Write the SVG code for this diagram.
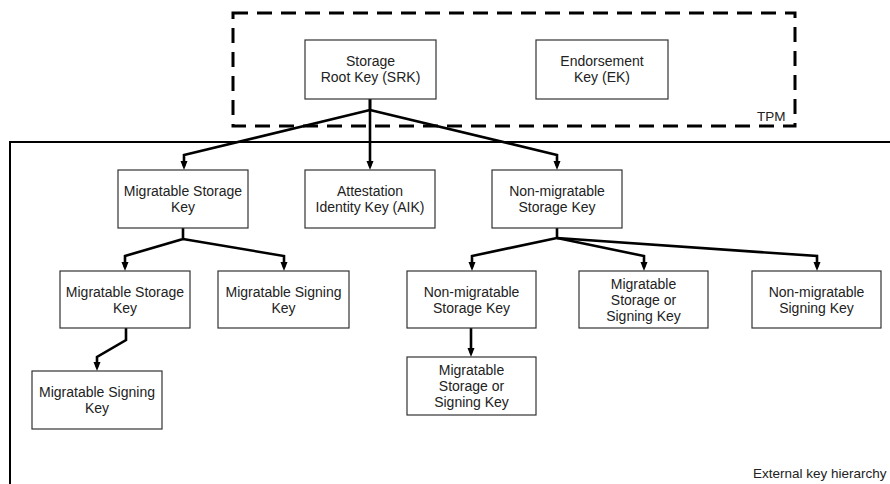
<svg xmlns="http://www.w3.org/2000/svg" width="890" height="484" viewBox="0 0 890 484">
  <style>
    .box { fill: #ffffff; stroke: #333333; stroke-width: 1.2; }
    .lbl { font-family: "Liberation Sans", Arial, sans-serif; font-size: 14px; fill: #222222; text-anchor: middle; }
    .note { font-family: "Liberation Sans", Arial, sans-serif; font-size: 13.5px; fill: #222222; }
    .edge { fill: none; stroke: #000000; stroke-width: 2.6; stroke-linejoin: miter; marker-end: url(#arrow); }
  </style>
  <defs>
    <marker id="arrow" markerUnits="userSpaceOnUse" markerWidth="10" markerHeight="8" refX="5" refY="3.5" orient="auto">
      <path d="M0,0 L9,3.5 L0,7 z" fill="#000000"/>
    </marker>
  </defs>
  <rect width="890" height="484" fill="#ffffff"/>

  <!-- external key hierarchy frame (runs off the right and bottom edges) -->
  <g id="external">
    <path d="M10,484 L10,142 L890,142" fill="none" stroke="#000000" stroke-width="2"/>
    <text class="note" x="753" y="478">External key hierarchy</text>
  </g>

  <!-- TPM boundary -->
  <g id="tpm">
    <rect x="233" y="13" width="562" height="113" fill="none" stroke="#000000" stroke-width="3" stroke-dasharray="15 9"/>
    <text class="note" x="757" y="121">TPM</text>
  </g>

  <g id="connectors">
    <polyline class="edge" points="370,99 370,110 184,155 184,166"/>
    <polyline class="edge" points="370,99 370,166"/>
    <polyline class="edge" points="370,110 557,155 557,166"/>
    <polyline class="edge" points="183,228 183,239 125,256 125,267"/>
    <polyline class="edge" points="183,239 284,256 284,267"/>
    <polyline class="edge" points="126,328 126,340 97,357 97,367"/>
    <polyline class="edge" points="557,228 557,238 472,256 472,267"/>
    <polyline class="edge" points="557,238 644,256 644,267"/>
    <polyline class="edge" points="557,238 817,256 817,267"/>
    <polyline class="edge" points="471,328 471,353"/>
  </g>

  <g id="srk">
    <rect class="box" x="305" y="40" width="131" height="59"/>
    <text class="lbl" x="370.5" y="66">Storage</text>
    <text class="lbl" x="370.5" y="82">Root Key (SRK)</text>
  </g>
  <g id="ek">
    <rect class="box" x="536" y="40" width="132" height="59"/>
    <text class="lbl" x="602" y="66">Endorsement</text>
    <text class="lbl" x="602" y="82">Key (EK)</text>
  </g>

  <g id="msk1">
    <rect class="box" x="118" y="170" width="130" height="58"/>
    <text class="lbl" x="183" y="196">Migratable Storage</text>
    <text class="lbl" x="183" y="212">Key</text>
  </g>
  <g id="aik">
    <rect class="box" x="305" y="170" width="130" height="58"/>
    <text class="lbl" x="370" y="196">Attestation</text>
    <text class="lbl" x="370" y="212">Identity Key (AIK)</text>
  </g>
  <g id="nmsk1">
    <rect class="box" x="492" y="170" width="130" height="58"/>
    <text class="lbl" x="557" y="196">Non-migratable</text>
    <text class="lbl" x="557" y="212">Storage Key</text>
  </g>

  <g id="msk2">
    <rect class="box" x="60" y="271" width="130" height="57"/>
    <text class="lbl" x="125" y="297">Migratable Storage</text>
    <text class="lbl" x="125" y="313">Key</text>
  </g>
  <g id="msig1">
    <rect class="box" x="218" y="271" width="131" height="57"/>
    <text class="lbl" x="283.5" y="297">Migratable Signing</text>
    <text class="lbl" x="283.5" y="313">Key</text>
  </g>
  <g id="nmsk2">
    <rect class="box" x="407" y="271" width="129" height="57"/>
    <text class="lbl" x="471.5" y="297">Non-migratable</text>
    <text class="lbl" x="471.5" y="313">Storage Key</text>
  </g>
  <g id="mss1">
    <rect class="box" x="579" y="271" width="129" height="57"/>
    <text class="lbl" x="643.5" y="289">Migratable</text>
    <text class="lbl" x="643.5" y="305">Storage or</text>
    <text class="lbl" x="643.5" y="321">Signing Key</text>
  </g>
  <g id="nmsig">
    <rect class="box" x="752" y="271" width="129" height="57"/>
    <text class="lbl" x="816.5" y="297">Non-migratable</text>
    <text class="lbl" x="816.5" y="313">Signing Key</text>
  </g>

  <g id="msig2">
    <rect class="box" x="32" y="371" width="130" height="58"/>
    <text class="lbl" x="97" y="397">Migratable Signing</text>
    <text class="lbl" x="97" y="413">Key</text>
  </g>
  <g id="mss2">
    <rect class="box" x="407" y="357" width="129" height="58"/>
    <text class="lbl" x="471.5" y="375">Migratable</text>
    <text class="lbl" x="471.5" y="391">Storage or</text>
    <text class="lbl" x="471.5" y="407">Signing Key</text>
  </g>
</svg>
